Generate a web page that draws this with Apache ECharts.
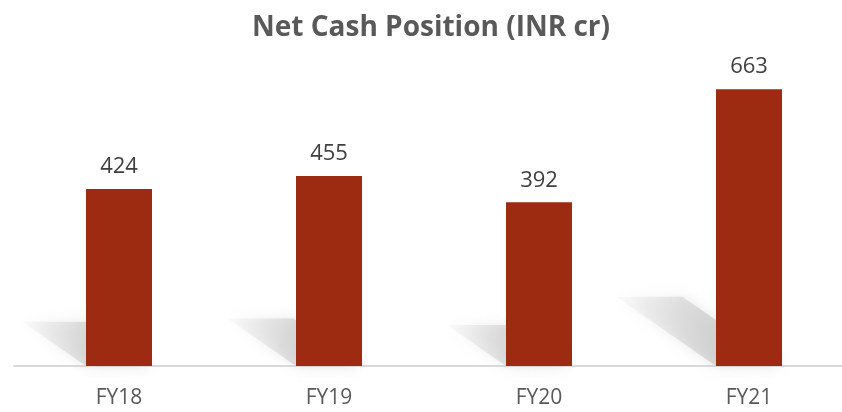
<!DOCTYPE html>
<html>
<head>
<meta charset="utf-8">
<script src="https://cdn.jsdelivr.net/npm/echarts@6/dist/echarts.min.js"></script>
<style>
  html, body { margin: 0; padding: 0; background: #fff; }
  #chart { width: 842px; height: 412px; }
</style>
</head>
<body>
<div id="chart"></div>
<script>
const categories = ['FY18', 'FY19', 'FY20', 'FY21']
const netCash = [424, 455, 392, 663]

const chart = echarts.init(document.getElementById('chart'))

// soft skewed shadow behind each bar, sized from the bar's own value
function renderShadow(params, api) {
  const idx = api.value(0)
  const base = api.coord([idx, 0])
  const top = api.coord([idx, api.value(1)])
  const h = base[1] - top[1]
  const barW = 66
  const xL = base[0] - barW / 2
  const xR = base[0] + barW / 2
  const dx = h * 0.36
  const dy = h * 0.25
  return {
    type: 'polygon',
    shape: {
      points: [[xL - dx, base[1] - dy], [xR - dx, base[1] - dy], [xR, base[1]], [xL, base[1]]]
    },
    style: {
      fill: new echarts.graphic.LinearGradient(0, 0, 1, 0, [
        { offset: 0, color: 'rgba(215,215,215,0.1)' },
        { offset: 0.55, color: 'rgba(200,200,200,0.65)' },
        { offset: 1, color: 'rgba(190,190,190,0.8)' }
      ]),
      shadowBlur: 14,
      shadowColor: 'rgba(205,205,205,0.8)'
    }
  }
}

chart.setOption({
  animation: false,
  title: {
    text: 'Net Cash Position (INR cr)',
    left: 426,
    top: 9,
    textAlign: 'center',
    textStyle: {
      fontFamily: 'Open Sans',
      fontWeight: 'bold',
      fontSize: 28,
      color: '#595959'
    }
  },
  grid: {
    top: 32,
    bottom: 46,
    left: 14,
    width: 840,
    outerBoundsMode: 'none',
    containLabel: false
  },
  xAxis: {
    type: 'category',
    data: categories,
    axisLine: { lineStyle: { color: '#d9d9d9', width: 2 } },
    axisTick: { show: false },
    axisLabel: {
      margin: 22,
      fontFamily: 'Open Sans',
      fontSize: 21,
      color: '#595959'
    }
  },
  yAxis: {
    type: 'value',
    min: 0,
    max: 800,
    show: false,
    splitLine: { show: false }
  },
  series: [
    {
      type: 'custom',
      renderItem: renderShadow,
      data: netCash.map((v, i) => [i, v]),
      z: 1,
      silent: true
    },
    {
      type: 'bar',
      data: netCash,
      barWidth: 66,
      z: 2,
      itemStyle: { color: '#9c2b11' },
      label: {
        show: true,
        position: 'top',
        distance: 11,
        fontFamily: 'Open Sans',
        fontSize: 22,
        color: '#404040'
      }
    }
  ]
})
</script>
</body>
</html>
